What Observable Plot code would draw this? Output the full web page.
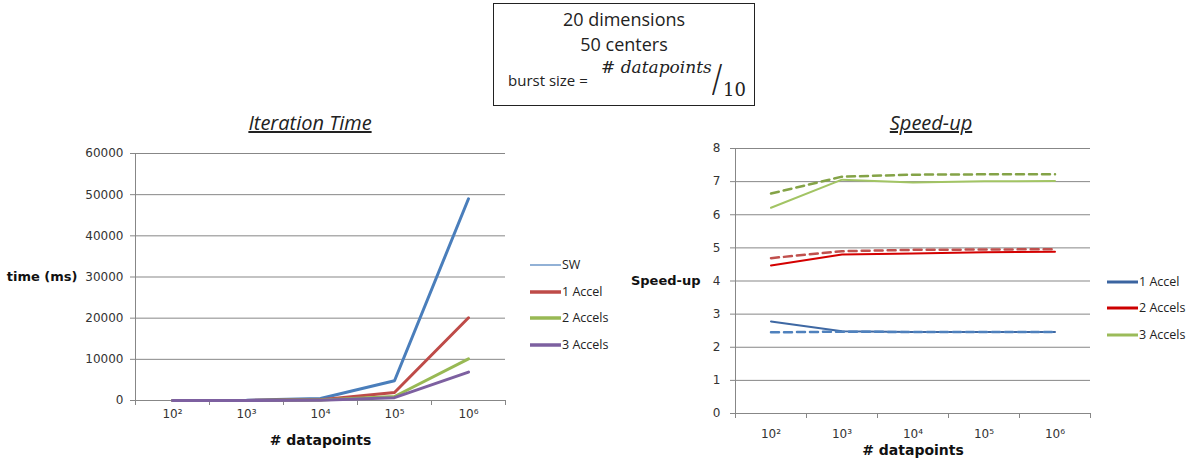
<!DOCTYPE html>
<html><head><meta charset="utf-8">
<script src="https://cdn.jsdelivr.net/npm/d3@7"></script>
<script src="https://cdn.jsdelivr.net/npm/@observablehq/plot@0.6"></script>
<style>
body{margin:0;background:#fff;}
#root{position:relative;width:1195px;height:465px;overflow:hidden;font-family:"Open Sans",sans-serif;color:#222;}
.abs{position:absolute;white-space:nowrap;}
.ctitle{font-size:20px;font-style:italic;text-decoration:underline;text-align:center;line-height:30px;}
.leg{font-size:12.5px;line-height:16px;display:flex;align-items:center;}
</style></head><body><div id="root"></div>
<script>
// ---- data ----
const sizes = ["10²", "10³", "10⁴", "10⁵", "10⁶"];
const timeTicks = [0, 10000, 20000, 30000, 40000, 50000, 60000];
const speedTicks = [0, 1, 2, 3, 4, 5, 6, 7, 8];
// Iteration time (ms)
const timeSW = [5, 50, 500, 4800, 49000];
const time1Accel = [2, 20, 200, 1960, 20100];
const time2Accels = [1, 10, 100, 980, 10100];
const time3Accels = [1, 7, 70, 690, 6900];
// Speed-up (solid = measured, dashed = second estimate)
const speed1 = [2.78, 2.48, 2.46, 2.46, 2.46];
const speed1Dashed = [2.45, 2.47, 2.46, 2.46, 2.46];
const speed2 = [4.47, 4.80, 4.83, 4.87, 4.88];
const speed2Dashed = [4.69, 4.90, 4.94, 4.95, 4.96];
const speed3 = [6.21, 7.06, 6.97, 7.01, 7.02];
const speed3Dashed = [6.64, 7.15, 7.21, 7.22, 7.22];
const leftNames = ["SW", "1 Accel", "2 Accels", "3 Accels"];
const rightNames = ["1 Accel", "2 Accels", "3 Accels"];

const root = document.getElementById("root");
const pts = arr => arr.map((v, i) => ({x: i + 0.5, y: v}));
const grid = "#878787";
const axisCommon = (extra) => Object.assign({stroke: grid, fill: "#333", fontSize: 12}, extra);

function addDiv(html, style, cls) {
  const d = document.createElement("div");
  d.className = "abs " + (cls || "");
  d.innerHTML = html;
  Object.assign(d.style, style);
  root.appendChild(d);
  return d;
}

// ---- title box ----
addDiv("", {left: "493px", top: "3px", width: "262px", height: "103px", border: "1px solid #222", boxSizing: "border-box"});
addDiv("20 dimensions", {left: "493px", width: "262px", top: "6px", textAlign: "center", fontSize: "18px", lineHeight: "26px"});
addDiv("50 centers", {left: "493px", width: "262px", top: "31px", textAlign: "center", fontSize: "18px", lineHeight: "26px"});
addDiv("burst size =", {left: "508px", top: "73px", fontSize: "15px", lineHeight: "15px"});
addDiv("# datapoints", {left: "601px", top: "59px", fontSize: "17px", lineHeight: "17px", fontFamily: "'DejaVu Serif',serif", fontStyle: "italic"});
addDiv("/", {left: "712px", top: "65px", fontSize: "36px", lineHeight: "36px", fontFamily: "'Liberation Serif',serif", transform: "scaleY(1.3)", transformOrigin: "50% 83%"});
addDiv("10", {left: "723px", top: "81px", fontSize: "18px", lineHeight: "18px", fontFamily: "'DejaVu Serif',serif"});

// ---- left chart: Iteration Time ----
addDiv("Iteration Time", {left: "160px", width: "300px", top: "108px"}, "ctitle");
const leftColors = ["#4A7EBB", "#BE4B48", "#98B954", "#7D60A0"];
const leftSeries = [timeSW, time1Accel, time2Accels, time3Accels];
const left = Plot.plot({
  width: 520, height: 320,
  marginLeft: 135, marginRight: 15, marginTop: 13, marginBottom: 60,
  style: {fontFamily: "'DejaVu Sans',sans-serif", fontSize: "12px", background: "transparent", overflow: "visible"},
  x: {domain: [0, 5]},
  y: {domain: [0, 60000]},
  marks: [
    Plot.gridY(timeTicks, {stroke: grid, strokeOpacity: 1}),
    Plot.ruleX([0], {stroke: grid}),
    Plot.axisY(axisCommon({ticks: timeTicks, tickSize: 5, tickPadding: 7, tickFormat: d3.format("d"), label: null})),
    Plot.axisX(axisCommon({ticks: [0, 1, 2, 3, 4, 5], tickSize: 5, tickFormat: () => "", label: null})),
    Plot.axisX(axisCommon({ticks: [0.5, 1.5, 2.5, 3.5, 4.5], tickSize: 0, tickPadding: 9, tickFormat: d => sizes[Math.floor(d)], label: null})),
    ...leftSeries.map((s, i) => Plot.line(pts(s), {x: "x", y: "y", stroke: leftColors[i], strokeWidth: 3})),
    Plot.text(["time (ms)"], {frameAnchor: "left", dx: -58, textAnchor: "end", fontWeight: "bold", fontSize: 13, fill: "#111"}),
    Plot.text(["# datapoints"], {frameAnchor: "bottom", dy: 44, fontWeight: "bold", fontSize: 14, fill: "#111"})
  ]
});
Object.assign(left.style, {position: "absolute", left: "0px", top: "140px"});
root.appendChild(left);

// left legend
const leftLegY = [265, 292, 318, 345];
leftNames.forEach((n, i) => {
  const w = i === 0 ? 1.2 : 3.5;
  addDiv(`<svg width="31" height="6" style="margin-right:1px"><line x1="0" x2="31" y1="3" y2="3" stroke="${leftColors[i]}" stroke-width="${w}"/></svg>${n}`,
    {left: "530px", top: (leftLegY[i] - 8) + "px"}, "leg");
});

// ---- right chart: Speed-up ----
addDiv("Speed-up", {left: "781px", width: "300px", top: "108px"}, "ctitle");
const solidColors = ["#3E68A3", "#D40000", "#A2C464"];
const dashColors = ["#4F81BD", "#C0504D", "#84A347"];
const solidSeries = [speed1, speed2, speed3];
const dashSeries = [speed1Dashed, speed2Dashed, speed3Dashed];
const right = Plot.plot({
  width: 480, height: 330,
  marginLeft: 115, marginRight: 10, marginTop: 13, marginBottom: 52,
  style: {fontFamily: "'DejaVu Sans',sans-serif", fontSize: "12px", background: "transparent", overflow: "visible"},
  x: {domain: [0, 5]},
  y: {domain: [0, 8]},
  marks: [
    Plot.gridY(speedTicks, {stroke: grid, strokeOpacity: 1}),
    Plot.ruleX([0], {stroke: grid}),
    Plot.axisY(axisCommon({ticks: speedTicks, tickSize: 5, tickPadding: 10, label: null})),
    Plot.axisX(axisCommon({ticks: [0, 1, 2, 3, 4, 5], tickSize: 5, tickFormat: () => "", label: null})),
    Plot.axisX(axisCommon({ticks: [0.5, 1.5, 2.5, 3.5, 4.5], tickSize: 0, tickPadding: 16, tickFormat: d => sizes[Math.floor(d)], label: null})),
    ...solidSeries.map((s, i) => Plot.line(pts(s), {x: "x", y: "y", stroke: solidColors[i], strokeWidth: 2})),
    ...dashSeries.map((s, i) => Plot.line(pts(s), {x: "x", y: "y", stroke: dashColors[i], strokeWidth: 2.5, strokeDasharray: "8,5"})),
    Plot.text(["Speed-up"], {frameAnchor: "left", dx: -35, textAnchor: "end", fontWeight: "bold", fontSize: 13, fill: "#111"}),
    Plot.text(["# datapoints"], {frameAnchor: "bottom", dy: 41, fontWeight: "bold", fontSize: 14, fill: "#111"})
  ]
});
Object.assign(right.style, {position: "absolute", left: "620px", top: "135px"});
root.appendChild(right);

// right legend
const rightLegY = [282, 308, 335];
const rightLegColors = ["#3B64A0", "#CC0000", "#9BBB59"];
rightNames.forEach((n, i) => {
  addDiv(`<svg width="31" height="6" style="margin-right:1px"><line x1="0" x2="31" y1="3" y2="3" stroke="${rightLegColors[i]}" stroke-width="3"/></svg>${n}`,
    {left: "1107px", top: (rightLegY[i] - 8) + "px"}, "leg");
});
</script></body></html>
